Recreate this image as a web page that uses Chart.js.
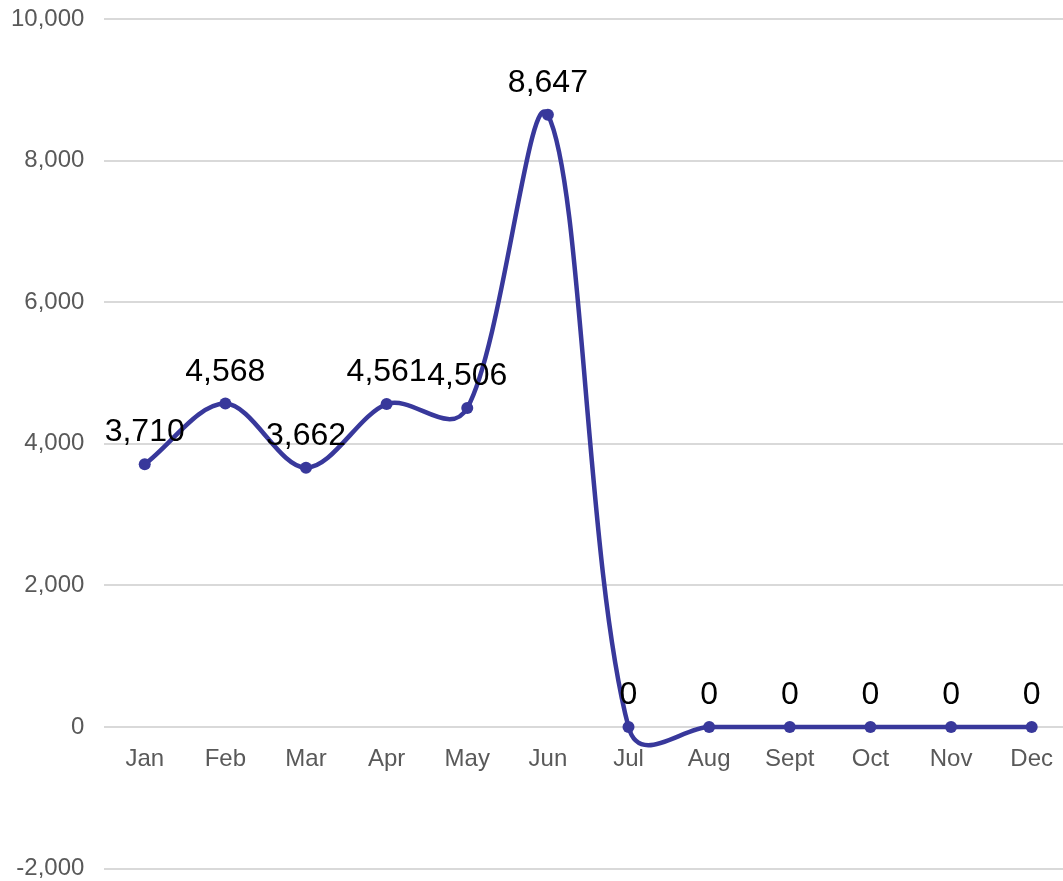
<!DOCTYPE html>
<html>
<head>
<meta charset="utf-8">
<script src="https://cdn.jsdelivr.net/npm/chart.js@4/dist/chart.umd.min.js"></script>
<style>
  html, body { margin: 0; padding: 0; background: #fff; overflow: hidden; }
  #wrap { width: 1063px; height: 881px; overflow: hidden; }
</style>
</head>
<body>
<div id="wrap"><canvas id="chart" width="1078" height="883"></canvas></div>
<script>
const months = ['Jan', 'Feb', 'Mar', 'Apr', 'May', 'Jun', 'Jul', 'Aug', 'Sept', 'Oct', 'Nov', 'Dec']
const values = [3710, 4568, 3662, 4561, 4506, 8647, 0, 0, 0, 0, 0, 0]
const yMin = -2000
const yMax = 10000
const yStep = 2000

const lineColor = '#38389b'
const fontFamily = '"Liberation Sans", Arial, sans-serif'

// numbers above every point
const valueLabels = {
  id: 'valueLabels',
  afterDatasetsDraw(chart) {
    const ctx = chart.ctx
    const meta = chart.getDatasetMeta(0)
    ctx.save()
    ctx.font = '32px ' + fontFamily
    ctx.fillStyle = '#000'
    ctx.textAlign = 'center'
    ctx.textBaseline = 'alphabetic'
    meta.data.forEach((pt, i) => {
      const v = chart.data.datasets[0].data[i]
      ctx.fillText(v.toLocaleString('en-US'), pt.x, pt.y - 23)
    })
    ctx.restore()
  }
}

// same spline as chart.js, but vertical distances weigh less (flatter original chart)
const smoothing = {
  id: 'smoothing',
  beforeDatasetsDraw(chart) {
    const line = chart.getDatasetMeta(0).dataset
    line.updateControlPoints(chart.chartArea, 'x')
    const pts = line.points
    const t = 0.33, k = 0.5
    pts.forEach((p, i) => {
      const a = pts[i - 1] || p
      const b = pts[i + 1] || p
      const d01 = Math.hypot(p.x - a.x, (p.y - a.y) * k)
      const d12 = Math.hypot(b.x - p.x, (b.y - p.y) * k)
      const s = (d01 + d12) || 1
      const fa = t * d01 / s
      const fb = t * d12 / s
      p.cp1x = p.x - fa * (b.x - a.x)
      p.cp1y = p.y - fa * (b.y - a.y)
      p.cp2x = p.x + fb * (b.x - a.x)
      p.cp2y = p.y + fb * (b.y - a.y)
    })
  }
}

const canvas = document.getElementById('chart')
new Chart(canvas, {
  type: 'line',
  data: {
    labels: months,
    datasets: [{
      data: values,
      borderColor: lineColor,
      backgroundColor: lineColor,
      borderWidth: 4.5,
      tension: 0.33,
      pointRadius: 6,
      pointHoverRadius: 6,
      pointBackgroundColor: lineColor,
      pointBorderWidth: 0,
      clip: false
    }]
  },
  options: {
    responsive: false,
    animation: false,
    layout: { padding: { left: 11, top: 19, right: 0, bottom: 0 } },
    plugins: {
      legend: { display: false },
      tooltip: { enabled: false }
    },
    scales: {
      x: {
        position: { y: 0 },
        offset: true,
        grid: { display: false, drawTicks: false },
        border: { display: false },
        ticks: {
          color: '#595959',
          font: { family: fontFamily, size: 24 },
          padding: 18
        }
      },
      y: {
        min: yMin,
        max: yMax,
        // transparent tick marks make the gap between labels and grid
        grid: { color: '#d9d9d9', lineWidth: 2, drawTicks: true, tickLength: 20, tickColor: 'rgba(0,0,0,0)' },
        border: { display: false },
        ticks: {
          stepSize: yStep,
          color: '#595959',
          font: { family: fontFamily, size: 24 },
          padding: 0,
          callback: v => v.toLocaleString('en-US')
        }
      }
    }
  },
  plugins: [smoothing, valueLabels]
})
</script>
</body>
</html>
